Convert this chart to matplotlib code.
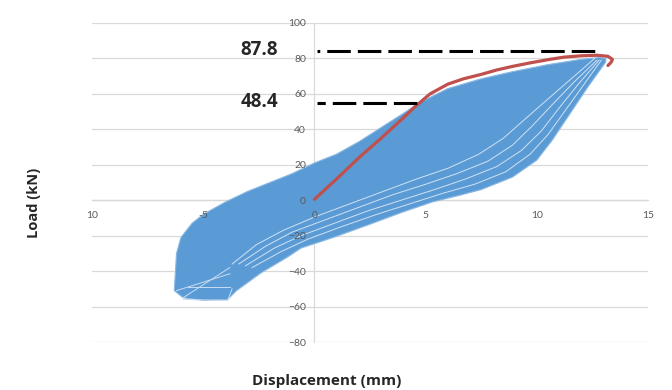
import matplotlib
matplotlib.use('Agg')
import matplotlib.pyplot as plt

# ---------------- data ----------------
x_ticks = [-10, -5, 0, 5, 10, 15]
x_tick_labels = ['10', '-5', '0', '5', '10', '15']
y_ticks = [-80, -60, -40, -20, 0, 20, 40, 60, 80, 100]

# envelope (backbone) curve
env_x = [0.0, 1.0, 2.0, 3.0, 4.0, 4.5, 5.2, 6.0, 6.7, 7.5, 8.2, 8.9, 9.7,
         10.5, 11.2, 12.0, 12.7, 13.2, 13.4, 13.35, 13.2]
env_y = [0.5, 12.0, 24.0, 35.0, 46.5, 52.5, 60.0, 65.5, 68.5, 71.0, 73.5,
         75.5, 77.5, 79.3, 80.7, 81.5, 81.8, 81.2, 79.5, 78.0, 76.0]

# hysteresis cloud: upper edge (left -> right)
cloud_upper_x = [-6.2, -6.0, -5.5, -5.0, -4.0, -3.0, -2.0, -1.0, 0.0, 1.0,
                 2.0, 3.0, 4.0, 4.6, 5.2, 6.0, 7.5, 8.9, 10.5, 12.0, 12.8, 13.1]
cloud_upper_y = [-30, -21, -13, -8, -1, 5, 10, 15, 21, 26, 33, 41, 49, 54,
                 58, 63, 68.5, 72.5, 76.5, 79.5, 80.5, 80]
# hysteresis cloud: lower edge (right -> left)
cloud_lower_x = [13.1, 12.3, 11.5, 10.7, 10.0, 8.9, 7.5, 6.6, 5.3, 3.9, 2.4,
                 0.85, -0.6, -1.2, -2.4, -3.5, -3.9, -5.0, -5.9, -6.3]
cloud_lower_y = [78, 64, 49, 34, 22.6, 13, 6, 3, -1, -7, -14, -21, -27,
                 -32, -41, -51, -56, -56.5, -55, -51]

# visible individual unloading/reloading branches inside the cloud
branch_x = [
    [12.9, 12.1, 11.3, 10.5, 9.7, 8.6, 7.2, 5.8, 4.3, 2.8, 1.2, -0.3, -1.5, -2.8],
    [12.8, 11.9, 11.0, 10.2, 9.3, 8.2, 6.8, 5.4, 3.9, 2.4, 0.9, -0.6, -1.8, -3.1],
    [12.7, 11.7, 10.7, 9.8, 8.9, 7.8, 6.4, 5.0, 3.5, 2.0, 0.5, -1.0, -2.2, -3.4],
    [12.6, 11.5, 10.4, 9.4, 8.5, 7.4, 6.0, 4.6, 3.1, 1.6, 0.1, -1.4, -2.6, -3.7],
]
branch_y = [
    [79, 65, 51, 37, 26, 16, 9, 4, -2, -8, -15, -22, -29, -38],
    [79, 66, 52, 39, 28, 19, 12, 6, 0, -6, -13, -20, -27, -37],
    [79, 67, 54, 42, 31, 22, 15, 9, 3, -4, -11, -18, -26, -36],
    [80, 68, 56, 45, 35, 26, 18, 12, 5, -2, -9, -17, -25, -36],
]
# light net lines at the negative tip
net_x = [[-6.2, -3.8], [-5.9, -3.8], [-5.7, -3.8], [-5.9, -3.9, -3.7]]
net_y = [[-51, -41.5], [-55, -38], [-49, -49], [-56, -56.6, -50]]

# reference levels
peak_label, peak_level, peak_end = '87.8', 84.0, 12.77
yield_label, yield_level, yield_end = '48.4', 54.6, 4.63

# ---------------- figure ----------------
W, H = 672, 390
fig = plt.figure(figsize=(W / 100, H / 100), dpi=100)
ax = fig.add_axes([92 / W, 48 / H, 556 / W, 319 / H])
ax.set_xlim(-10, 15)
ax.set_ylim(-80, 100)

grid_c = '#D9D9D9'
for yv in y_ticks:
    ax.axhline(yv, color=grid_c, lw=0.9, zorder=0)

for s in ['top', 'right']:
    ax.spines[s].set_visible(False)
ax.spines['left'].set_position(('data', 0))
ax.spines['bottom'].set_position(('data', 0))
for s in ['left', 'bottom']:
    ax.spines[s].set_color(grid_c)
    ax.spines[s].set_linewidth(0.9)
    ax.spines[s].set_zorder(0.5)

blue = '#5B9BD5'
poly_x = cloud_upper_x + cloud_lower_x
poly_y = cloud_upper_y + cloud_lower_y
ax.fill(poly_x, poly_y, color=blue, lw=0, zorder=1)
ax.plot(poly_x + [poly_x[0]], poly_y + [poly_y[0]], color='#8AB8E2', lw=0.8, zorder=1.2)
for bx, by in zip(branch_x, branch_y):
    ax.plot(bx, by, color='#DCEAF7', lw=0.7, alpha=0.9, zorder=1.3)
for nx, ny in zip(net_x, net_y):
    ax.plot(nx, ny, color='#C9DDF2', lw=0.7, zorder=1.3)

ax.plot(env_x, env_y, color='#C0504D', lw=2.3, zorder=3, solid_capstyle='round')

ax.plot([0.1, peak_end], [peak_level, peak_level], color='black', lw=2.2,
        linestyle=(6.8, (7.7, 2.3)), zorder=4)
ax.plot([0.1, yield_end], [yield_level, yield_level], color='black', lw=2.2,
        linestyle=(5.0, (7.7, 2.3)), zorder=4)

ax.text(-1.62, peak_level + 0.5, peak_label, ha='right', va='center',
        fontsize=13.5, fontweight='bold', family='Open Sans', color='#262626')
ax.text(-1.62, yield_level + 1.0, yield_label, ha='right', va='center',
        fontsize=13.5, fontweight='bold', family='Open Sans', color='#262626')

ax.set_xticks(x_ticks, labels=x_tick_labels)
ax.set_yticks(y_ticks)
ax.tick_params(axis='both', length=0, labelsize=7.5, labelcolor='#595959')
ax.tick_params(axis='x', pad=8)
ax.tick_params(axis='y', pad=6)
for lab in ax.get_xticklabels() + ax.get_yticklabels():
    lab.set_family('Lato')
ax.xaxis.set_zorder(10)
ax.yaxis.set_zorder(10)

fig.text(34 / W, 1 - 203 / H, 'Load (kN)', rotation=90, ha='center', va='center',
         fontsize=10.5, fontweight='bold', family='Open Sans', color='#262626')
fig.text(327 / W, 1 - 381 / H, 'Displacement (mm)', ha='center', va='center',
         fontsize=11, fontweight='bold', family='Open Sans', color='#262626')

fig.savefig('out.png', dpi=100)
